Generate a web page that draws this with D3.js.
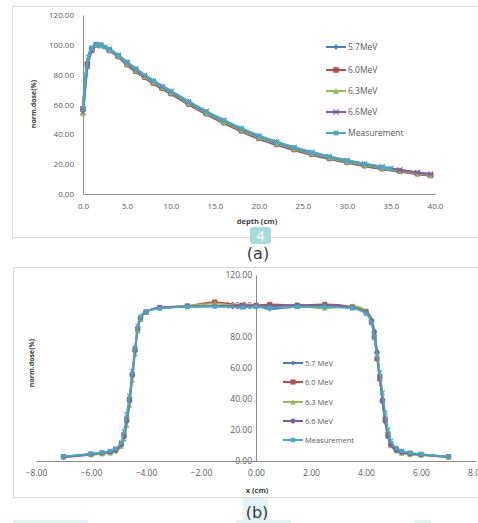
<!DOCTYPE html>
<html>
<head>
<meta charset="utf-8">
<script src="https://cdn.jsdelivr.net/npm/d3@7"></script>
<style>
body { margin: 0; background: #fff; }
text { font-family: "Open Sans", Lato, sans-serif; }
</style>
</head>
<body>
<div id="container"></div>
<script>
// (a) depth dose
var depth = [0, 0.5, 1, 1.5, 2, 3, 4, 5, 6, 7, 8, 9, 10, 12, 14, 16, 18, 20, 22, 24, 26, 28, 30, 32, 34, 36, 38, 39.5];
var pdd57 = [56, 88, 97.5, 100, 99.5, 96, 92, 86.5, 82, 78, 74, 70.5, 67, 60, 53.5, 47.5, 42, 37, 33, 29.5, 26.3, 23.5, 21, 18.7, 16.7, 15, 13.4, 12.3];
var pdd60 = [57, 87, 97, 100, 99.6, 96.3, 92.3, 87, 82.5, 78.5, 74.5, 71, 67.5, 60.5, 54, 48, 42.5, 37.5, 33.5, 30, 26.8, 24, 21.4, 19.1, 17.1, 15.3, 13.7, 12.5];
var pdd63 = [54, 86, 96.5, 99.8, 99.8, 96.6, 92.6, 87.4, 83, 79, 75, 71.5, 68, 61, 54.5, 48.5, 43, 38, 34, 30.4, 27.2, 24.4, 21.8, 19.5, 17.4, 15.6, 14, 12.8];
var pdd66 = [55, 85.5, 96, 99.5, 100, 97, 93, 88, 83.5, 79.5, 75.6, 72, 68.6, 61.6, 55.2, 49.2, 43.6, 38.6, 34.6, 31, 27.8, 25, 22.4, 20.1, 18, 16.2, 14.5, 13.3];
var depthMeas = [0, 0.3, 0.6, 1, 1.5, 2, 2.5, 3, 4, 5, 6, 8, 10, 12, 14, 16, 18, 20, 22, 24, 26, 28, 30, 32, 34, 35];
var pddMeas = [57, 80, 92, 98, 100, 100, 98.5, 97, 93, 88.5, 84, 76, 69, 62, 55.5, 49.5, 44, 39, 35, 31.3, 28, 25.1, 22.5, 20.2, 18.1, 17.2];
var depthTicks = [0, 5, 10, 15, 20, 25, 30, 35, 40];

// (b) profile
var posX = [-7, -6, -5.6, -5.3, -5.1, -4.9, -4.8, -4.7, -4.6, -4.5, -4.4, -4.3, -4.2, -4, -3.5, -2.5, -1.5, -0.5, 0, 0.5, 1.5, 2.5, 3.5, 4, 4.2, 4.3, 4.4, 4.5, 4.6, 4.7, 4.8, 4.9, 5.1, 5.3, 5.6, 6, 7];
var prof57 = [2.5, 4, 4.8, 5.6, 6.8, 10, 15, 25, 38, 55, 71, 86, 92.5, 96.5, 98.5, 99.5, 99.8, 99.5, 100, 98, 99.5, 99.8, 99, 96, 91, 84, 70, 54, 38, 25, 16, 10.5, 7, 5.8, 4.8, 4, 2.5];
var prof60 = [2.8, 4.3, 5, 5.8, 7.5, 11, 17, 27, 40, 56, 72, 85, 91.5, 96, 99, 100, 102.5, 100.5, 100.5, 101, 100.5, 101, 99.5, 96.5, 90, 80, 66, 53, 39, 27, 17, 11, 7.5, 6, 5, 4.2, 2.8];
var prof63 = [2.7, 4.2, 4.6, 5.2, 6.5, 9.5, 14, 23, 36, 52, 69, 84, 91.5, 96, 99, 100, 101.5, 100, 100, 99.5, 99.8, 98.5, 100, 97, 92, 85, 72, 56, 40, 26, 16, 10, 6.5, 5, 4.2, 3.8, 2.6];
var prof66 = [2.6, 4.4, 5.2, 5.8, 7, 10.5, 16, 26, 39, 55, 71, 86, 92.5, 96, 99, 99.8, 100, 100, 100, 100, 100.5, 100.5, 99, 96, 90.5, 83, 70, 55, 39, 26, 16, 10.5, 7, 5.5, 4.6, 4.1, 2.6];
var profMeas = [2.9, 4.8, 5.6, 6.5, 8, 12, 19, 30, 42, 58, 73, 87, 93, 96.5, 98.5, 99.5, 99.8, 99, 99.5, 99, 99.5, 99.5, 98.5, 95, 89, 80, 68, 57, 44, 31, 20, 13, 8.5, 6.5, 5.3, 4.5, 2.9];
var posTicks = [-8, -6, -4, -2, 0, 2, 4, 6, 8];

var doseTicks = [0, 20, 40, 60, 80, 100, 120];
var namesA = ["5.7MeV", "6.0MeV", "6.3MeV", "6.6MeV", "Measurement"];
var namesB = ["5.7 MeV", "6.0 MeV", "6.3 MeV", "6.6 MeV", "Measurement"];
var colors = ["#4a7ebb", "#be4b48", "#98b954", "#7d60a0", "#46aac5"];

var svg = d3.select("#container").append("svg")
	.attr("width", 478)
	.attr("height", 523);

// markers
function markerPath(type, s) {
	var h = s / 2;
	if (type === "diamond") return "M0," + (-h) + "L" + h + ",0L0," + h + "L" + (-h) + ",0Z";
	if (type === "square") return "M" + (-h) + "," + (-h) + "h" + s + "v" + s + "h" + (-s) + "Z";
	if (type === "triangle") return "M0," + (-h) + "L" + h + "," + h + "L" + (-h) + "," + h + "Z";
	if (type === "circle") return d3.symbol().type(d3.symbolCircle).size(s * s * 0.8)();
	if (type === "x") return "M" + (-h) + "," + (-h) + "L" + h + "," + h + "M" + h + "," + (-h) + "L" + (-h) + "," + h;
	// star
	return "M" + (-h) + "," + (-h) + "L" + h + "," + h + "M" + h + "," + (-h) + "L" + (-h) + "," + h + "M0," + (-h) + "L0," + h;
}
function drawMarker(g, type, cx, cy, color, s) {
	var stroked = (type === "x" || type === "star");
	g.append("path")
		.attr("d", markerPath(type, s))
		.attr("transform", "translate(" + cx + "," + cy + ")")
		.attr("fill", stroked ? "none" : color)
		.attr("stroke", color)
		.attr("stroke-width", stroked ? 1.1 : 0.6);
}
function drawSeries(g, xs, ys, x, y, color, type, s, lw) {
	var pts = xs.map(function(d, i) { return [x(d), y(ys[i])]; });
	g.append("path")
		.attr("d", d3.line().curve(d3.curveMonotoneX)(pts))
		.attr("fill", "none")
		.attr("stroke", color)
		.attr("stroke-width", lw)
		.attr("stroke-linejoin", "round");
	pts.forEach(function(p) { drawMarker(g, type, p[0], p[1], color, s); });
}
function styleAxis(a, fs) {
	a.select(".domain").attr("stroke", "#8c8c8c").attr("stroke-width", 1);
	a.selectAll("text").attr("fill", "#595959").attr("font-size", fs)
		.style("font-family", "'Open Sans', Lato, sans-serif");
}

// frames
svg.append("rect").attr("x", 12.5).attr("y", 6.5).attr("width", 480).attr("height", 231)
	.attr("fill", "none").attr("stroke", "#d9d9d9");
svg.append("rect").attr("x", 13.5).attr("y", 267.5).attr("width", 480).attr("height", 230)
	.attr("fill", "none").attr("stroke", "#d9d9d9");

// ---------- chart (a)
var xa = d3.scaleLinear().domain([0, 40]).range([83, 435]);
var ya = d3.scaleLinear().domain([0, 120]).range([194, 15]);

var gaY = svg.append("g").attr("transform", "translate(83,0)")
	.call(d3.axisLeft(ya).tickValues(doseTicks).tickFormat(d3.format(".2f")).tickSize(0).tickPadding(9));
styleAxis(gaY, "8px");
var gaX = svg.append("g").attr("transform", "translate(0,194)")
	.call(d3.axisBottom(xa).tickValues(depthTicks).tickFormat(d3.format(".1f")).tickSize(0).tickPadding(9));
styleAxis(gaX, "8px");

var types = ["diamond", "square", "triangle", "x", "star"];
var gA = svg.append("g");
var setsA = [[depth, pdd57], [depth, pdd60], [depth, pdd63], [depth, pdd66], [depthMeas, pddMeas]];
setsA.forEach(function(s, i) {
	drawSeries(gA, s[0], s[1], xa, ya, colors[i], types[i], 5, 2.4);
});

svg.append("text").attr("x", 257).attr("y", 224).attr("text-anchor", "middle")
	.attr("font-size", "7.5px").attr("font-weight", "bold").attr("fill", "#404040").text("depth (cm)");
svg.append("text").attr("transform", "translate(36,104) rotate(-90)").attr("text-anchor", "middle")
	.attr("font-size", "7px").attr("font-weight", "bold").attr("fill", "#404040").text("norm.dose(%)");

var legA = svg.append("g");
var legAY = [47, 70, 91, 112, 133];
namesA.forEach(function(n, i) {
	legA.append("line").attr("x1", 326).attr("x2", 346).attr("y1", legAY[i]).attr("y2", legAY[i])
		.attr("stroke", colors[i]).attr("stroke-width", 2);
	drawMarker(legA, types[i], 336, legAY[i], colors[i], 5);
	legA.append("text").attr("x", 348).attr("y", legAY[i] + 3).attr("font-size", "8.5px")
		.attr("fill", "#595959").text(n);
});

// page badge and caption (a)
svg.append("rect").attr("x", 250).attr("y", 227).attr("width", 21).attr("height", 17).attr("rx", 3)
	.attr("fill", "#a6dcdc");
svg.append("text").attr("x", 260.5).attr("y", 241).attr("text-anchor", "middle")
	.attr("font-size", "14px").attr("fill", "#ffffff").text("4");
svg.append("text").attr("x", 258).attr("y", 259).attr("text-anchor", "middle")
	.attr("font-size", "16px").attr("fill", "#3a3a3a").style("font-family", "'DejaVu Sans', sans-serif").text("(a)");

// ---------- chart (b)
var xb = d3.scaleLinear().domain([-8, 8]).range([36, 476]);
var yb = d3.scaleLinear().domain([0, 120]).range([461, 275]);

var gbY = svg.append("g").attr("transform", "translate(" + xb(0) + ",0)")
	.call(d3.axisLeft(yb).tickValues(doseTicks).tickFormat(d3.format(".2f")).tickSize(0).tickPadding(4));
styleAxis(gbY, "8.5px");
var gbX = svg.append("g").attr("transform", "translate(0,461)")
	.call(d3.axisBottom(xb).tickValues(posTicks).tickFormat(d3.format(".2f")).tickSize(0).tickPadding(9));
styleAxis(gbX, "8.5px");

var typesB = ["diamond", "square", "triangle", "circle", "star"];
var gB = svg.append("g");
var setsB = [prof57, prof60, prof63, prof66, profMeas];
setsB.forEach(function(s, i) {
	drawSeries(gB, posX, s, xb, yb, colors[i], typesB[i], 4.5, 1.8);
});

svg.append("text").attr("x", 257).attr("y", 493).attr("text-anchor", "middle")
	.attr("font-size", "7.5px").attr("font-weight", "bold").attr("fill", "#404040").text("x (cm)");
svg.append("text").attr("transform", "translate(34,363) rotate(-90)").attr("text-anchor", "middle")
	.attr("font-size", "7px").attr("font-weight", "bold").attr("fill", "#404040").text("norm.dose(%)");

var legB = svg.append("g");
var legBY = [363, 382, 402, 421, 440];
namesB.forEach(function(n, i) {
	legB.append("line").attr("x1", 283).attr("x2", 303).attr("y1", legBY[i]).attr("y2", legBY[i])
		.attr("stroke", colors[i]).attr("stroke-width", 2);
	drawMarker(legB, typesB[i], 293, legBY[i], colors[i], 4.5);
	legB.append("text").attr("x", 305).attr("y", legBY[i] + 3).attr("font-size", "7.5px")
		.attr("fill", "#595959").text(n);
});

// caption (b) and highlight strips
svg.append("rect").attr("x", 243).attr("y", 498).attr("width", 25).attr("height", 23).attr("fill", "#e4f4f4");
svg.append("text").attr("x", 257).attr("y", 518).attr("text-anchor", "middle")
	.attr("font-size", "16px").attr("fill", "#3a3a3a").style("font-family", "'DejaVu Sans', sans-serif").text("(b)");
[[13, 75], [236, 55], [414, 17]].forEach(function(r) {
	svg.append("rect").attr("x", r[0]).attr("y", 520).attr("width", r[1]).attr("height", 3).attr("fill", "#dff3f3");
});
</script>
</body>
</html>
